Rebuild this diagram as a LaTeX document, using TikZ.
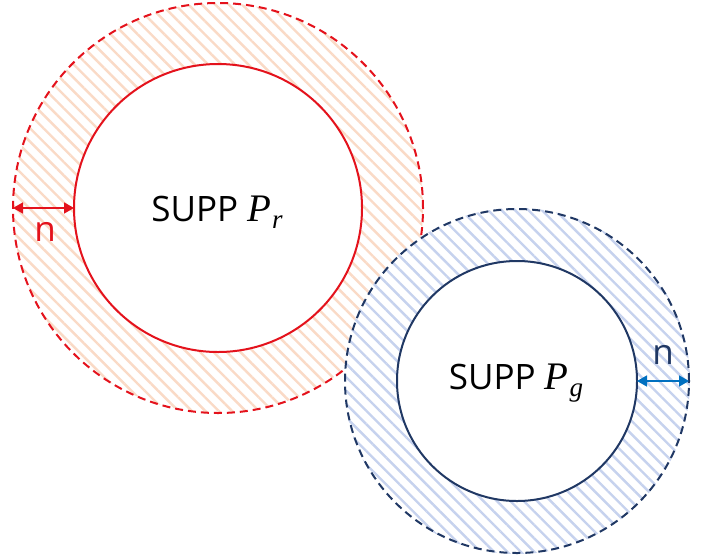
\documentclass[tikz,border=0pt]{standalone}
\usepackage{fontspec}
\setmainfont{Open Sans}
\newfontfamily\pfont{Liberation Serif}
\usetikzlibrary{patterns.meta,arrows.meta}
\definecolor{myred}{RGB}{228,18,28}
\definecolor{myhatchred}{RGB}{250,218,198}
\definecolor{mynavy}{RGB}{32,56,100}
\definecolor{myhatchblue}{RGB}{198,210,238}
\definecolor{myarrowblue}{RGB}{0,112,192}
\newcommand{\suppP}[1]{SUPP {\pfont\itshape\fontsize{39}{40}\selectfont P\kern1pt\raisebox{-7pt}{\fontsize{27}{27}\selectfont #1}}}
\tikzset{
  ring/.style={circle, inner sep=0pt, outer sep=0pt, line width=2pt},
  dashring/.style={ring, dash pattern=on 8pt off 5pt},
  hatch/.style={pattern={Lines[angle=-45,distance=9.5pt,line width=2.4pt]}, pattern color=#1},
  dimarrow/.style={{Triangle[length=10pt,width=11pt]}-{Triangle[length=10pt,width=11pt]}, line width=1.5pt},
  lbl/.style={font=\fontsize{35}{40}\selectfont}
}
\begin{document}
\begin{tikzpicture}[x=1pt,y=-1pt]
\useasboundingbox (0,0) rectangle (703,555);
\coordinate (rc) at (218,208);
\coordinate (bc) at (517,381);
% red annulus
\fill[white] (rc) circle (205);
\path[hatch=myhatchred, even odd rule] (rc) circle (205) (rc) circle (144);
\node[dashring, draw=myred, minimum size=410pt] (rout) at (rc) {};
\node[ring, draw=myred, minimum size=288pt] (rin) at (rc) {};
% blue annulus
\fill[white] (bc) circle (173);
\path[hatch=myhatchblue, even odd rule] (bc) circle (173) (bc) circle (120);
\node[dashring, draw=mynavy, minimum size=344pt] (bout) at (bc) {};
\node[ring, draw=mynavy, minimum size=240pt] (bin) at (bc) {};
% labels
\node[lbl] (tr) at (217,212) {\suppP{r}};
\node[lbl] (tg) at (516,383) {\suppP{g}};
% arrows
\draw[dimarrow, myred] (rout.west) -- (rin.west);
\node[lbl, text=myred, anchor=base] (nr) at (45,241) {n};
\draw[dimarrow, myarrowblue] (bin.east) -- (bout.east);
\node[lbl, text=mynavy, anchor=base] (ng) at (663,364) {n};
\end{tikzpicture}
\end{document}
